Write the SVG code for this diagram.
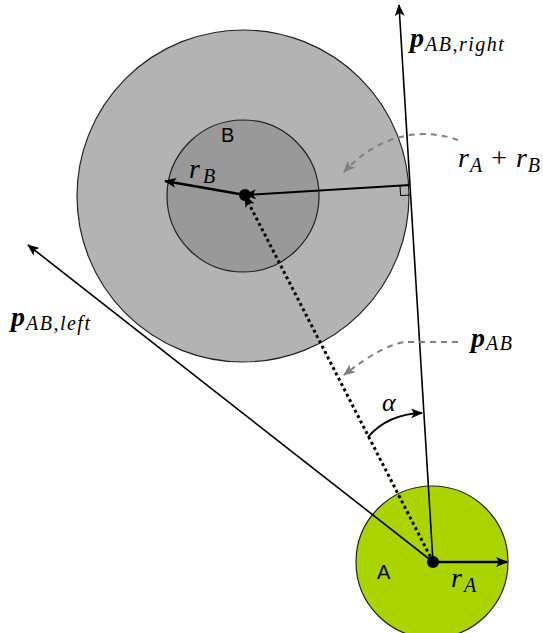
<svg xmlns="http://www.w3.org/2000/svg" width="543" height="633" viewBox="0 0 543 633">
<defs>
<style>
.circ{stroke:#222;stroke-width:1.2}
.ln{stroke:#000;fill:none}
.gd{stroke:#808080;stroke-width:2;fill:none;stroke-dasharray:6 5}
.m{font-family:'Liberation Serif','DejaVu Serif',serif;font-style:italic;fill:#000}
.pb{font-weight:bold}
.s{font-family:'Liberation Sans','DejaVu Sans',sans-serif;fill:#000;font-size:20px}
</style>
<marker id="ah" viewBox="0 0 12 10" refX="11" refY="5" markerWidth="12" markerHeight="10" markerUnits="userSpaceOnUse" orient="auto">
<path d="M0,0 L12,5 L0,10 L3,5 z" fill="#000"/>
</marker>
<marker id="ahg" viewBox="0 0 12 10" refX="11" refY="5" markerWidth="12" markerHeight="10" markerUnits="userSpaceOnUse" orient="auto">
<path d="M0,0 L12,5 L0,10 L3,5 z" fill="#808080"/>
</marker>
</defs>
<g id="nodeB">
<circle class="circ" cx="243" cy="196" r="166" fill="#b3b3b3"/>
<circle class="circ" cx="243" cy="196" r="76" fill="#999999"/>
<text class="s" x="221" y="142">B</text>
</g>
<g id="nodeA">
<circle class="circ" cx="432" cy="562" r="76" fill="#aad400"/>
<text class="s" x="377" y="579">A</text>
</g>
<g id="connectors">
<line class="ln" x1="433" y1="562" x2="399" y2="5" stroke-width="1.6" marker-end="url(#ah)"/>
<line class="ln" x1="433" y1="562" x2="28" y2="245" stroke-width="1.6" marker-end="url(#ah)"/>
<line class="ln" x1="433" y1="562" x2="245" y2="196" stroke-width="3" stroke-dasharray="3 3" marker-end="url(#ah)"/>
<line class="ln" x1="410" y1="185" x2="245" y2="195" stroke-width="2" marker-end="url(#ah)"/>
<polyline class="ln" points="400,185.6 400.6,195.6 410.6,195" stroke-width="1"/>
<line class="ln" x1="245" y1="195" x2="165" y2="181" stroke-width="2.4" marker-end="url(#ah)"/>
<line class="ln" x1="433" y1="562" x2="507" y2="562" stroke-width="2.4" marker-end="url(#ah)"/>
<path class="ln" d="M368,437 Q388,414 422,413" stroke-width="1.8" marker-end="url(#ah)"/>
<path class="gd" d="M458,140 C430,130 385,128 344,172" marker-end="url(#ahg)"/>
<path class="gd" d="M458,342 L407,342 Q385,343 344,375" marker-end="url(#ahg)"/>
<circle cx="245" cy="195" r="6" fill="#000"/>
<circle cx="433" cy="562" r="6" fill="#000"/>
</g>
<g id="labels">
<text class="m" x="410" y="47" font-size="28"><tspan class="pb">p</tspan><tspan font-size="20" dy="4" dx="1" letter-spacing="1.5">AB,right</tspan></text>
<text class="m" x="11" y="326" font-size="28"><tspan class="pb">p</tspan><tspan font-size="20" dy="4" dx="1" letter-spacing="1.5">AB,left</tspan></text>
<text class="m" x="471" y="347" font-size="28"><tspan class="pb">p</tspan><tspan font-size="20" dy="3" dx="1" letter-spacing="1.5">AB</tspan></text>
<text class="m" x="458" y="167" font-size="28">r<tspan font-size="20" dy="5" dx="1">A</tspan><tspan font-style="normal" font-size="28" dy="-5" dx="9">+</tspan><tspan dx="9">r</tspan><tspan font-size="20" dy="5" dx="1">B</tspan></text>
<text class="m" x="189" y="178" font-size="28">r<tspan font-size="20" dy="5" dx="3">B</tspan></text>
<text class="m" x="451" y="587" font-size="28">r<tspan font-size="20" dy="5" dx="2">A</tspan></text>
<text class="m" x="382" y="411" font-size="26">α</text>
</g>
</svg>
